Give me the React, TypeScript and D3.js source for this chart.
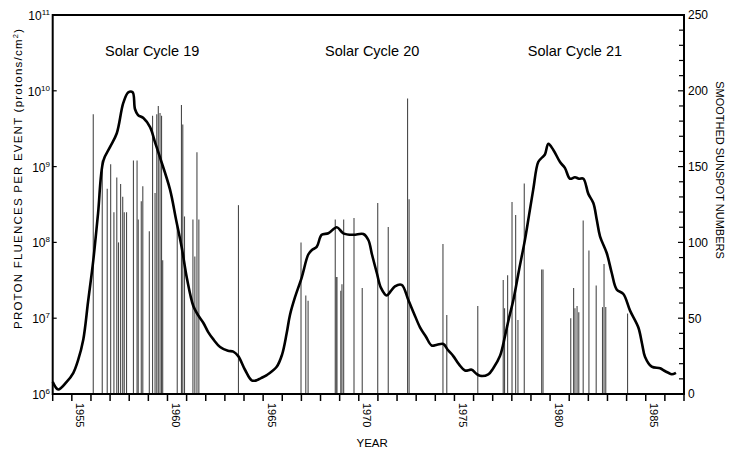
import React from 'react';
import { scaleLinear, scaleLog, line, curveCatmullRom, range } from 'd3';

const W = 730;
const H = 453;
const margin = { top: 15, right: 46, bottom: 59, left: 52.7 };

// smoothed sunspot number curve
const ssnYears = [
  1954.0, 1954.29, 1954.73, 1955.08, 1955.32, 1955.6, 1955.85, 1956.12, 1956.37, 1956.65,
  1957.0, 1957.35, 1957.69, 1957.95, 1958.18, 1958.3, 1958.46, 1958.74, 1959.09, 1959.35,
  1959.61, 1960.13, 1960.45, 1960.74, 1961.02, 1961.35, 1961.6, 1961.87, 1962.12, 1962.4,
  1962.75, 1963.16, 1963.44, 1963.7, 1964.05, 1964.4, 1964.66, 1964.89, 1965.19, 1965.71,
  1965.99, 1966.23, 1966.4, 1966.67, 1967.02, 1967.36, 1967.55, 1967.8, 1968.06, 1968.41,
  1968.85, 1969.19, 1969.71, 1970.24, 1970.5, 1970.69, 1970.94, 1971.16, 1971.46, 1971.68,
  1971.89, 1972.24, 1972.59, 1972.89, 1973.2, 1973.51, 1973.81, 1974.09, 1974.42, 1974.66,
  1974.94, 1975.24, 1975.55, 1975.9, 1976.13, 1976.34, 1976.77, 1977.03, 1977.38, 1977.64,
  1977.85, 1978.08, 1978.38, 1978.69, 1978.9, 1979.12, 1979.38, 1979.58, 1979.73, 1979.91,
  1980.17, 1980.52, 1980.78, 1981.04, 1981.3, 1981.51, 1981.74, 1982.0, 1982.26, 1982.44,
  1982.61, 1982.96, 1983.22, 1983.48, 1983.83, 1984.18, 1984.61, 1984.81, 1984.96, 1985.31,
  1985.75, 1985.95, 1986.18, 1986.36, 1986.58
];
const ssnValues = [
  8, 3, 8, 14, 22, 36, 61, 88, 119, 154,
  163, 172, 192, 199, 199, 188, 184, 182, 176, 166,
  156, 135, 115, 97, 76, 58, 52, 47, 41, 36,
  31, 28.5, 28, 25, 16, 9, 9, 10.5, 12.5, 18,
  26, 40, 52, 64, 77, 92, 95, 97, 105, 106,
  110, 106, 105, 105.5, 101.6, 92, 80, 70, 65, 68,
  71, 72, 62, 53, 44, 37.8, 32, 32.5, 33, 29,
  25, 19.5, 15.5, 16, 13.5, 12, 13, 17, 25, 38,
  50, 62, 82, 102, 118, 135, 153, 156, 158, 165,
  161, 153, 149, 142, 143, 142, 142, 132, 126, 115,
  104, 93, 80, 69, 66, 55, 44, 33, 24.6, 18,
  17, 15.5, 14, 13, 14
];

// proton event fluences (protons/cm2)
const eventYears = [
  1956.12, 1956.59, 1956.85, 1957.03, 1957.2, 1957.35, 1957.44, 1957.55, 1957.66, 1957.74,
  1957.86, 1958.22, 1958.41, 1958.47, 1958.63, 1958.71, 1959.05, 1959.22, 1959.35, 1959.44,
  1959.52, 1959.61, 1959.69, 1959.75, 1960.51, 1960.73, 1960.8, 1960.89, 1961.33, 1961.43,
  1961.54, 1961.64, 1963.71,
  1966.98, 1967.23, 1967.35, 1968.77, 1968.82, 1968.86, 1969.06, 1969.12, 1969.21, 1969.75,
  1970.18, 1970.99, 1971.54, 1972.55, 1972.63, 1974.4, 1974.6,
  1976.22, 1977.55, 1977.62, 1977.78, 1978.01, 1978.2, 1978.32, 1978.65, 1979.56, 1979.63,
  1981.08, 1981.23, 1981.3, 1981.41, 1981.5, 1981.73, 1982.03, 1982.41, 1982.74, 1982.82,
  1982.91, 1984.05
];
const eventFluences = [
  4.9e9, 1.2e9, 5.1e8, 1.07e9, 2.5e8, 7.2e8, 1.0e8, 5.9e8, 4.0e8, 2.5e8,
  2.5e8, 1.2e9, 1.2e9, 2.0e8, 3.5e8, 5.5e8, 1.4e8, 4.7e9, 4.5e8, 4.9e9,
  6.3e9, 5.1e9, 4.7e9, 5.8e7, 1.8e8, 6.5e9, 3.6e9, 2.2e8, 2.0e8, 6.5e7,
  1.55e9, 2.0e8, 3.1e8,
  1.0e8, 2.0e7, 1.7e7, 2.0e8, 3.5e7, 3.5e7, 2.3e7, 2.8e7, 2.0e8, 2.1e8,
  2.5e7, 3.3e8, 1.6e8, 7.9e9, 3.7e8, 9.5e7, 1.1e7,
  1.45e7, 3.2e7, 1.35e7, 3.7e7, 3.4e8, 2.3e8, 9.5e6, 6.0e8, 4.4e7, 4.4e7,
  1.0e7, 2.5e7, 1.35e7, 1.45e7, 1.2e7, 1.95e8, 7.8e7, 2.7e7, 1.4e7, 5.2e7,
  1.4e7, 1.15e7
];

const yearLabels = [1955, 1960, 1965, 1970, 1975, 1980, 1985];
const fluenceExponents = [6, 7, 8, 9, 10, 11];
const sunspotLabels = [0, 50, 100, 150, 200, 250];
const cycleNames = ['Solar Cycle 19', 'Solar Cycle 20', 'Solar Cycle 21'];
const cycleCenters = [1959.2, 1970.7, 1981.3];

const font = 'Arial, "Liberation Sans", Helvetica, sans-serif';

export default function App() {
  const x0 = margin.left;
  const x1 = W - margin.right;
  const yTop = margin.top;
  const yBot = H - margin.bottom;

  const xScale = scaleLinear().domain([1954, 1987]).range([x0, x1]);
  const yLog = scaleLog().domain([1e6, 1e11]).range([yBot, yTop]);
  const ySsn = scaleLinear().domain([0, 250]).range([yBot, yTop]);

  const ssnData = ssnYears.map((yr, i) => [yr, ssnValues[i]] as [number, number]);
  const lineFn = line<[number, number]>()
    .curve(curveCatmullRom.alpha(0.5))
    .x(d => xScale(d[0]))
    .y(d => ySsn(d[1]));

  const yearTicks = range(1954, 1988);
  const ssnTicks = range(0, 251, 10);

  return (
    <svg width={W} height={H} style={{ position: 'absolute', left: 0, top: 0, background: '#fff' }}>
      {/* event bars */}
      <g stroke="#4a4a4a" strokeWidth={1.1}>
        {eventYears.map((yr, i) => (
          <line key={i} x1={xScale(yr)} x2={xScale(yr)} y1={yBot} y2={yLog(eventFluences[i])} />
        ))}
      </g>

      {/* sunspot curve */}
      <path d={lineFn(ssnData) || ''} fill="none" stroke="#000" strokeWidth={2.6} strokeLinejoin="round" />

      {/* frame */}
      <rect x={x0} y={yTop} width={x1 - x0} height={yBot - yTop} fill="none" stroke="#000" strokeWidth={2} />

      {/* bottom axis */}
      <g stroke="#000" strokeWidth={1.5}>
        {yearTicks.map(t => (
          <line key={t} x1={xScale(t)} x2={xScale(t)} y1={yBot} y2={yBot + 7} />
        ))}
      </g>
      {yearLabels.map(t => (
        <text key={t} transform={`translate(${xScale(t) + 4.5},${yBot + 9}) rotate(90)`}
          fontSize={11} fontFamily={font} fill="#000">{t}</text>
      ))}
      <text x={xScale(1970.7)} y={447} textAnchor="middle" fontSize={11.5} fontFamily={font}>YEAR</text>

      {/* left axis */}
      <g stroke="#000" strokeWidth={1.2}>
        {fluenceExponents.map(e => (
          <line key={e} x1={x0} x2={x0 + 4} y1={yLog(Math.pow(10, e))} y2={yLog(Math.pow(10, e))} />
        ))}
      </g>
      {fluenceExponents.map(e => (
        <text key={e} x={50} y={yLog(Math.pow(10, e)) + 5} textAnchor="end" fontSize={12} fontFamily={font}>
          10<tspan fontSize={8} dy={-5}>{e}</tspan>
        </text>
      ))}
      <text transform={`translate(22,179) rotate(-90)`} textAnchor="middle" fontSize={11.5}
        fontFamily={font} textLength={300} lengthAdjust="spacing">
        PROTON FLUENCES PER EVENT (protons/cm<tspan fontSize={7.5} dy={-4}>2</tspan><tspan dy={4}>)</tspan>
      </text>

      {/* right axis */}
      <g stroke="#000" strokeWidth={1.2}>
        {ssnTicks.map(t => (
          <line key={t} x1={x1 - (t % 50 === 0 ? 6 : 5)} x2={x1} y1={ySsn(t)} y2={ySsn(t)} />
        ))}
      </g>
      {sunspotLabels.map(t => (
        <text key={t} x={x1 + 4} y={ySsn(t) + 4.3} fontSize={12} fontFamily={font}>{t}</text>
      ))}
      <text transform={`translate(716,170) rotate(90)`} textAnchor="middle" fontSize={11}
        fontFamily={font}>SMOOTHED SUNSPOT NUMBERS</text>

      {/* cycle labels */}
      {cycleNames.map((name, i) => (
        <text key={name} x={xScale(cycleCenters[i])} y={56} textAnchor="middle" fontSize={14.5}
          fontFamily={font}>{name}</text>
      ))}
    </svg>
  );
}
